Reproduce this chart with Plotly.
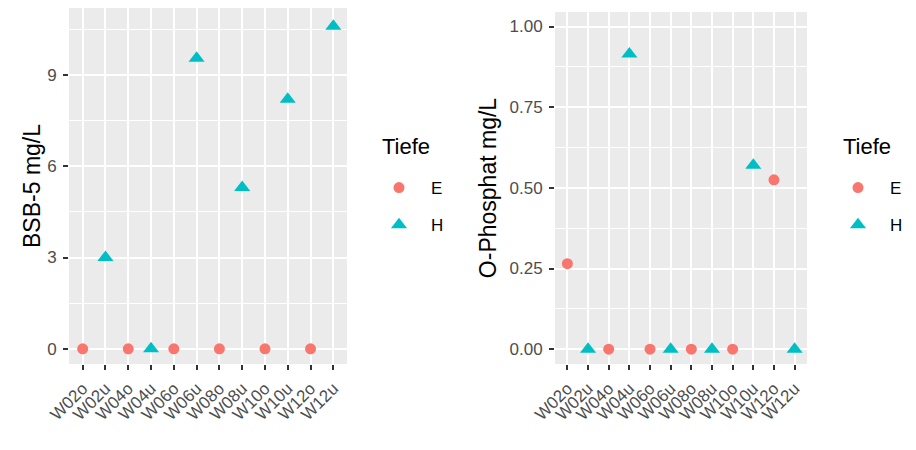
import plotly.graph_objects as go

W, H = 916, 450

categories = ["W02o", "W02u", "W04o", "W04u", "W06o", "W06u",
              "W08o", "W08u", "W10o", "W10u", "W12o", "W12u"]
tiefe = ["E", "H", "E", "H", "E", "H", "E", "H", "E", "H", "E", "H"]
bsb5 = [0, 3.0, 0, 0, 0, 9.55, 0, 5.3, 0, 8.2, 0, 10.6]
ophosphat = [0.265, 0, 0, 0.915, 0, 0, 0, 0, 0, 0.57, 0.525, 0]
bsb5_ticks = [0, 3, 6, 9]
ophos_ticks = [0, 0.25, 0.5, 0.75, 1.0]
ophos_ticklabels = ["0.00", "0.25", "0.50", "0.75", "1.00"]

colors = {"E": "#F8766D", "H": "#00BFC4"}
symbols = {"E": "circle", "H": "triangle-up"}
sizes = {"E": 11, "H": 14}
FONT = "Liberation Sans, Arial, sans-serif"

fig = go.Figure()

for panel, (vals, xa, ya, leg) in enumerate([(bsb5, "x", "y", "legend"),
                                              (ophosphat, "x2", "y2", "legend2")]):
    for g in ["E", "H"]:
        xs = [c for c, t in zip(categories, tiefe) if t == g]
        ys = [v for v, t in zip(vals, tiefe) if t == g]
        fig.add_trace(go.Scatter(
            x=xs, y=ys, mode="markers", name=g,
            marker=dict(color=colors[g], symbol=symbols[g], size=sizes[g],
                        line=dict(width=0)),
            xaxis=xa, yaxis=ya, legend=leg,
            legendgroup=f"{g}{panel}",
        ))

def px_x(a, b):
    return [a / W, b / W]

def px_y(top, bottom):
    return [1 - bottom / H, 1 - top / H]

axis_common = dict(
    showgrid=True, gridcolor="white", gridwidth=2,
    ticks="outside", ticklen=5, tickwidth=1.5, tickcolor="#333333",
    tickfont=dict(family=FONT, size=17, color="#4D4D4D"),
    showline=False, zeroline=False, automargin=False,
)

title_font = dict(family=FONT, size=23, color="black")
legend_common = dict(xanchor="left", yanchor="top",
                     font=dict(family=FONT, size=17, color="black"),
                     tracegroupgap=12, itemwidth=54, bgcolor="rgba(0,0,0,0)")

fig.update_layout(
    width=W, height=H,
    margin=dict(l=0, r=0, t=0, b=0),
    paper_bgcolor="white",
    plot_bgcolor="#EBEBEB",
    font=dict(family=FONT, color="black"),
    showlegend=True,
    xaxis=dict(domain=px_x(69, 347), anchor="y", type="category",
               categoryorder="array", categoryarray=categories,
               range=[-0.6, 11.6], tickangle=-45, ticklabelstandoff=2,
               **axis_common),
    yaxis=dict(domain=px_y(8, 364), anchor="x", range=[-0.5, 11.2],
               tickvals=bsb5_ticks, ticklabelstandoff=3,
               minor=dict(dtick=1.5, tick0=0, showgrid=True, gridcolor="white",
                          gridwidth=1, ticks=""),
               title=dict(text="BSB-5 mg/L", font=title_font, standoff=0),
               **axis_common),
    xaxis2=dict(domain=px_x(555, 807), anchor="y2", type="category",
                categoryorder="array", categoryarray=categories,
                range=[-0.6, 11.6], tickangle=-45, ticklabelstandoff=2,
                **axis_common),
    yaxis2=dict(domain=px_y(12, 364), anchor="x2", range=[-0.046, 1.045],
                tickvals=ophos_ticks, ticktext=ophos_ticklabels, ticklabelstandoff=3,
                minor=dict(dtick=0.125, tick0=0, showgrid=True, gridcolor="white",
                           gridwidth=1, ticks=""),
                title=dict(text="O-Phosphat mg/L", font=title_font, standoff=6),
                **axis_common),
    legend=dict(x=367 / W, y=1 - 170 / H, **legend_common),
    legend2=dict(x=826 / W, y=1 - 170 / H, **legend_common),
    annotations=[
        dict(text="Tiefe", x=380 / W, y=1 - 146 / H, xref="paper", yref="paper",
             xanchor="left", yanchor="middle", showarrow=False,
             font=dict(family=FONT, size=22, color="black")),
        dict(text="Tiefe", x=841 / W, y=1 - 146 / H, xref="paper", yref="paper",
             xanchor="left", yanchor="middle", showarrow=False,
             font=dict(family=FONT, size=22, color="black")),
    ],
)

fig.write_html("out.html")
